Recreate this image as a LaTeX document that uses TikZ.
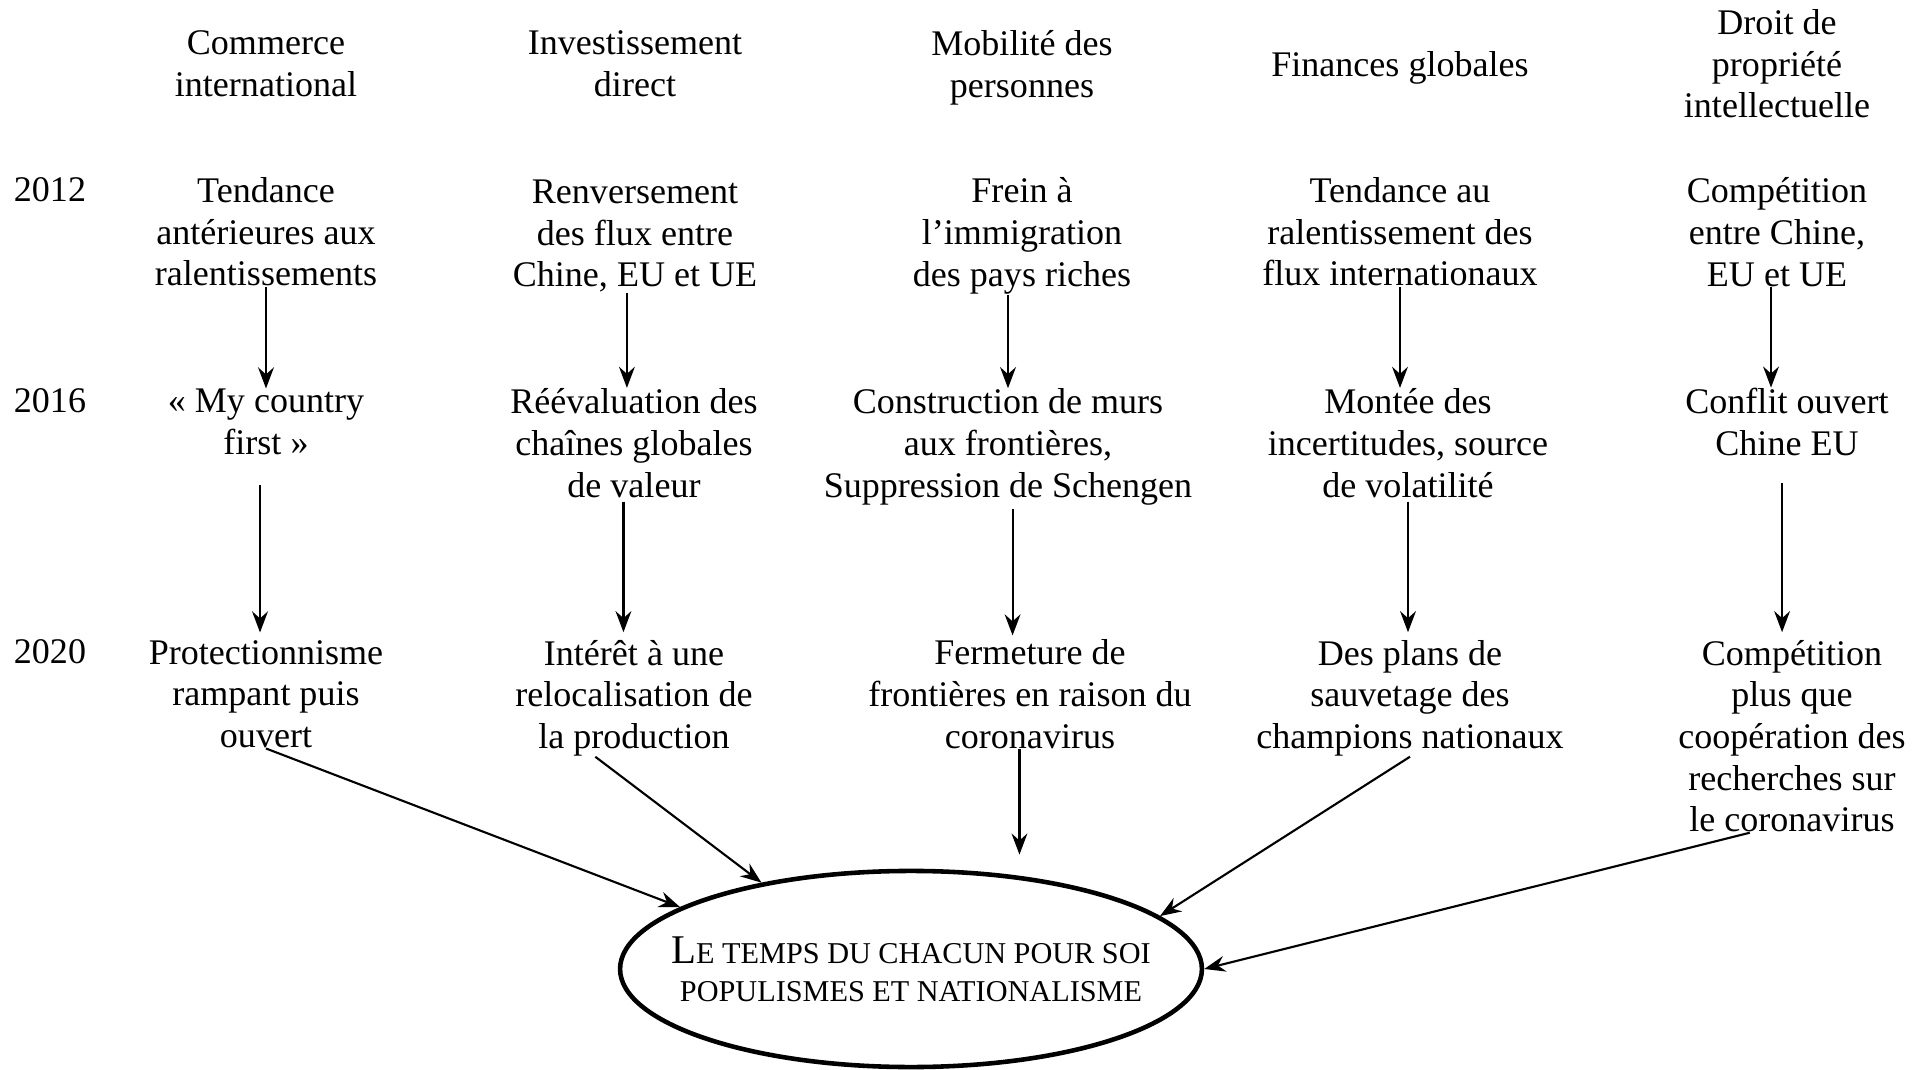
\documentclass[tikz,border=0pt]{standalone}
\usepackage{fontspec}
\setmainfont{Liberation Serif}
\usetikzlibrary{positioning, arrows.meta, shapes.geometric}
\tikzset{
>={Stealth[length=6pt, width=4.5pt, inset=2pt]}, % pointes des fleches
texte/.style={align=center, inner sep=0pt, font=\fontsize{10.25}{11.85}\selectfont}, % texte des cases
fleche/.style={->, line width=0.6pt}, % liens entre les cases
bulle/.style={draw, ellipse, line width=1.3pt, minimum width=5.8cm, minimum height=1.96cm, inner xsep=-0.34cm, inner ysep=0pt, align=center, font=\fontsize{8.6}{10.8}\selectfont}, % ellipse finale
}
\newcommand{\grandL}{{\fontsize{11.6}{10.8}\selectfont L}}

\begin{document}
\begin{tikzpicture}[x=0.01cm, y=-0.01cm]
\useasboundingbox (0,0) rectangle (1923,1070);
% themes
\node[texte] (h1) at (266,64) {Commerce\\international};
\node[texte] (h2) at (635,64) {Investissement\\direct};
\node[texte] (h3) at (1022,68) {Mobilité des\\personnes};
\node[texte] (h4) at (1400,68) {Finances globales};
\node[texte] (h5) at (1777,64) {Droit de\\propriété\\intellectuelle};
% annees
\node[texte] (a12) at (50,190) {2012};
\node[texte] (a16) at (50,401) {2016};
\node[texte] (a20) at (50,652) {2020};
% 2012
\node[texte] (t1) at (266,232) {Tendance\\antérieures aux\\ralentissements};
\node[texte] (t2) at (635,236) {Renversement\\des flux entre\\Chine, EU et UE};
\node[texte] (t3) at (1022,236) {Frein à\\l’immigration\\des pays riches};
\node[texte] (t4) at (1400,232) {Tendance au\\ralentissement des\\flux internationaux};
\node[texte] (t5) at (1777,232) {Compétition\\entre Chine,\\EU et UE};
% 2016
\node[texte] (m1) at (266,422) {« My country\\first »};
\node[texte] (m2) at (634,443) {Réévaluation des\\chaînes globales\\de valeur};
\node[texte] (m3) at (1008,447) {Construction de murs\\aux frontières,\\Suppression de Schengen};
\node[texte] (m4) at (1408,443) {Montée des\\incertitudes, source\\de volatilité};
\node[texte] (m5) at (1787,422) {Conflit ouvert\\Chine EU};
% 2020
\node[texte] (b1) at (266,694) {Protectionnisme\\rampant puis\\ouvert};
\node[texte] (b2) at (634,698) {Intérêt à une\\relocalisation de\\la production};
\node[texte] (b3) at (1030,694) {Fermeture de\\frontières en raison du\\coronavirus};
\node[texte] (b4) at (1410,698) {Des plans de\\sauvetage des\\champions nationaux};
\node[texte] (b5) at (1792,736) {Compétition\\plus que\\coopération des\\recherches sur\\le coronavirus};
% resultat
\node[bulle] (ell) at (911,969) {\grandL E TEMPS DU CHACUN POUR SOI\\POPULISMES ET NATIONALISME};

% 2012 -> 2016
\draw[fleche] (t1.south) -- (t1.south |- m1.north);
\draw[fleche] ([xshift=-2.3pt]t2.south) -- ([xshift=-2.3pt]t2.south |- m2.north);
\draw[fleche] (m3.north |- t3.south) -- (m3.north);
\draw[fleche] (t4.south) -- (t4.south |- m4.north);
\draw[fleche] ([xshift=-1.7pt]t5.south) -- ([xshift=-1.7pt]t5.south |- m5.north);
% 2016 -> 2020
\draw[fleche, shorten <=8.5pt, shorten >=2pt] ([xshift=-1.7pt]m1.south) -- ([xshift=-1.7pt]m1.south |- b1.north);
\draw[fleche, shorten <=1pt, shorten >=2pt] ([xshift=-3pt]m2.south) -- ([xshift=-3pt]m2.south |- b2.north);
\draw[fleche, shorten <=1pt, shorten >=1pt] ([xshift=1.3pt]m3.south) -- ([xshift=1.3pt]m3.south |- b3.north);
\draw[fleche, shorten <=1pt, shorten >=2pt] (m4.south) -- (m4.south |- b4.north);
\draw[fleche, shorten <=7.5pt, shorten >=2pt] ([xshift=-1.4pt]m5.south) -- ([xshift=-1.4pt]m5.south |- b5.north);
% 2020 -> ellipse
\draw[fleche] (b1.south) -- (ell.165);
\draw[fleche] ([xshift=-11pt]b2.south) -- (ell.150);
\draw[fleche, shorten >=4pt] ([xshift=-3pt]b3.south) -- ([xshift=-3pt]b3.south |- ell.north);
\draw[fleche] (b4.south) -- (ell.12);
\draw[fleche] ([xshift=-12pt]b5.south) -- (ell.east);
\end{tikzpicture}
\end{document}
